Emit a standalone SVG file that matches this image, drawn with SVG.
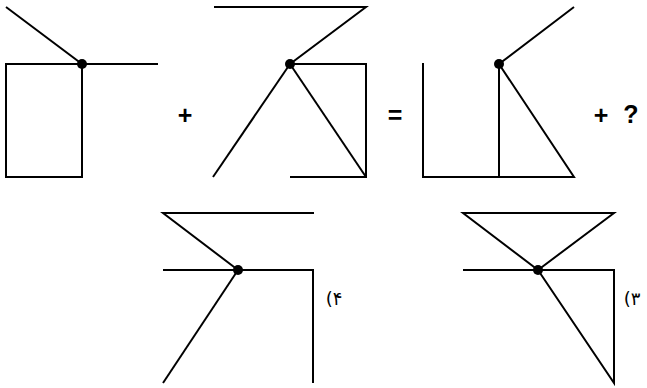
<svg xmlns="http://www.w3.org/2000/svg" width="647" height="388" viewBox="0 0 647 388">
<style>
.ln{stroke:#000;stroke-width:2;fill:none;stroke-linecap:butt;stroke-linejoin:miter}
.dot{fill:#000}
.op{font-family:"Liberation Sans",Arial,sans-serif;font-weight:bold;font-size:25px;fill:#000;text-anchor:middle}
.lb{font-family:"DejaVu Sans","Noto Sans",sans-serif;font-size:18px;fill:#000;text-anchor:middle}
</style>
<rect width="647" height="388" fill="#fff"/>
<g id="fig1">
<polyline class="ln" points="6,7 82,64 158,64"/>
<rect class="ln" x="6" y="64" width="76" height="113"/>
<circle class="dot" cx="82" cy="64" r="5"/>
</g>
<g id="plus1"><text class="op" x="185" y="124">+</text></g>
<g id="fig2">
<polyline class="ln" points="214,7 366,7 290,64 366,64 366,177 290,177"/>
<line class="ln" x1="290" y1="64" x2="213" y2="177"/>
<line class="ln" x1="290" y1="64" x2="366" y2="177"/>
<circle class="dot" cx="290" cy="64" r="5"/>
</g>
<g id="eq"><text class="op" x="395" y="124">=</text></g>
<g id="fig3">
<polyline class="ln" points="423,63 423,177 574,177 499,64 574,7"/>
<line class="ln" x1="499" y1="64" x2="499" y2="177"/>
<circle class="dot" cx="499" cy="64" r="5"/>
</g>
<g id="plus2"><text class="op" x="601" y="124">+</text></g>
<g id="q"><text class="op" x="631" y="123">?</text></g>
<g id="opt4">
<polyline class="ln" points="314,213 163,213 238,270"/>
<polyline class="ln" points="163,270 313,270 313,383"/>
<line class="ln" x1="238" y1="270" x2="163" y2="383"/>
<circle class="dot" cx="238" cy="270" r="5"/>
<text class="lb" x="334" y="305">(۴</text>
</g>
<g id="opt3">
<polygon class="ln" points="463,213 614,213 538,270"/>
<polyline class="ln" points="463,270 614,270 614,383 538,270"/>
<circle class="dot" cx="538" cy="270" r="5"/>
<text class="lb" x="632" y="305">(۳</text>
</g>
</svg>
